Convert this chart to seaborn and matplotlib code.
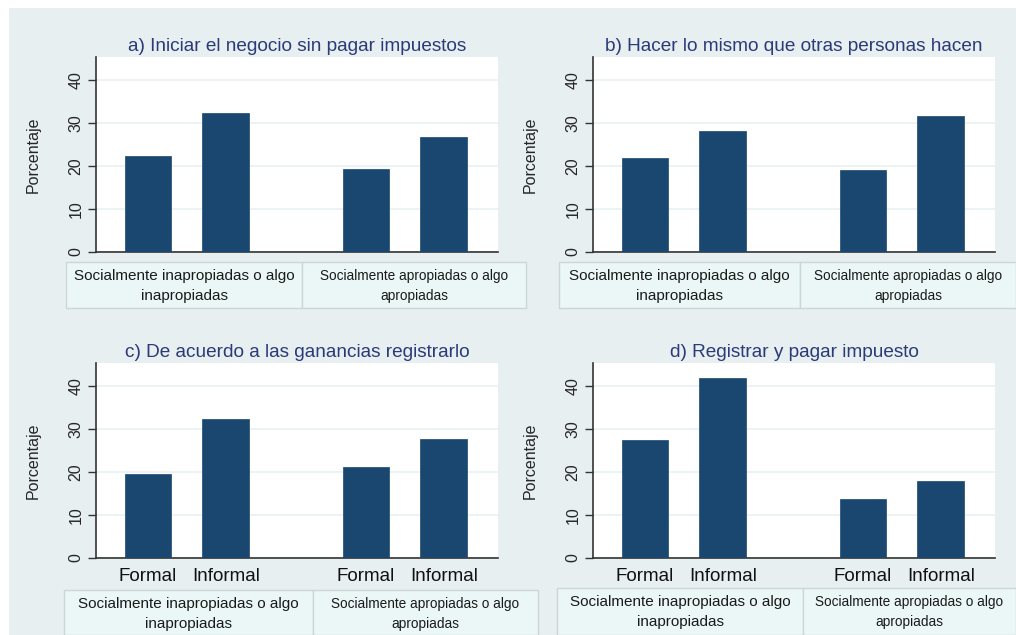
import pandas as pd
import seaborn as sns
import matplotlib.pyplot as plt
from matplotlib.patches import Rectangle

# Data
groups = ["Socialmente inapropiadas o algo\ninapropiadas",
          "Socialmente apropiadas o algo\napropiadas"]
sectors = ["Formal", "Informal"]
titles = ["a) Iniciar el negocio sin pagar impuestos",
          "b) Hacer lo mismo que otras personas hacen",
          "c) De acuerdo a las ganancias registrarlo",
          "d) Registrar y pagar impuesto"]
# order: [inapropiadas-Formal, inapropiadas-Informal, apropiadas-Formal, apropiadas-Informal]
vals_a = [22.3, 32.3, 19.3, 26.8]
vals_b = [21.8, 28.2, 19.0, 31.7]
vals_c = [19.5, 32.3, 21.2, 27.6]
vals_d = [27.3, 41.8, 13.7, 17.9]
yticks = [0, 10, 20, 30, 40]

bar_color = "#1a476f"
bg_color = "#e7eff1"
cell_color = "#eaf7f6"
title_color = "#2b3a78"

sns.set_theme(style="white")
plt.rcParams["font.family"] = ["Liberation Sans", "DejaVu Sans"]

W, H = 1016, 635
fig = plt.figure(figsize=(W / 100, H / 100), dpi=100)
fig.patch.set_facecolor(bg_color)

# white margin strips at top and left
fig.add_artist(Rectangle((0, 1 - 8 / H), 1, 8 / H, transform=fig.transFigure,
                         facecolor="white", edgecolor="none", zorder=0))
fig.add_artist(Rectangle((0, 0), 9 / W, 1, transform=fig.transFigure,
                         facecolor="white", edgecolor="none", zorder=0))


def px_box(x0, y0, x1, y1):
    return [x0 / W, 1 - y1 / H, (x1 - x0) / W, (y1 - y0) / H]


panels = [
    (titles[0], vals_a, (96, 57, 498, 252), False),
    (titles[1], vals_b, (593, 57, 995, 252), False),
    (titles[2], vals_c, (96, 363, 498, 558), True),
    (titles[3], vals_d, (593, 363, 995, 558), True),
]

bar_width = 0.714
for title, vals, box, show_sector in panels:
    ax = fig.add_axes(px_box(*box))
    df = pd.DataFrame({
        "grupo": [0, 0, 1, 1],
        "sector": sectors * 2,
        "pct": vals,
    })
    sns.barplot(data=df, x="grupo", y="pct", hue="sector", hue_order=sectors,
                palette=[bar_color, bar_color], width=bar_width, gap=0.4,
                legend=False, ax=ax, saturation=1, edgecolor=bar_color, linewidth=0.5,
                zorder=3)
    ax.set_facecolor("white")
    ax.set_ylim(0, 45.3)
    ax.set_xlim(-0.417, 1.427)
    ax.set_yticks(yticks)
    ax.set_yticklabels([str(t) for t in yticks], rotation=90, va="center",
                       fontsize=11.5)
    ax.yaxis.grid(True, color="#e9f1f2", linewidth=1.2, zorder=0)
    ax.tick_params(axis="y", length=6, width=1, color="#333333", pad=3,
                   left=True)
    ax.set_ylabel("Porcentaje", fontsize=11.5, labelpad=20)
    ax.set_xlabel("")
    for side in ["top", "right"]:
        ax.spines[side].set_visible(False)
    ax.spines["left"].set_color("#333333")
    ax.spines["bottom"].set_color("#333333")
    ax.spines["left"].set_linewidth(1.2)
    ax.spines["bottom"].set_linewidth(1.2)
    ax.set_title(title, fontsize=13.7, color=title_color, pad=4)
    if show_sector:
        off = bar_width / 4
        ax.set_xticks([-off, off, 1 - off, 1 + off])
        ax.set_xticklabels(sectors * 2, fontsize=13.5, color="#111111")
        ax.tick_params(axis="x", length=0, pad=7)
    else:
        ax.set_xticks([])

# tables under each panel: (x0, y0, divider, x1, y1)
tables = [
    (66, 262, 302, 526, 308),
    (559, 262, 800, 1016, 308),
    (64, 590, 313, 538, 635),
    (557, 588, 803, 1016, 635),
]
table_font = ["Liberation Sans Narrow", "Liberation Sans", "DejaVu Sans"]
for x0, y0, xd, x1, y1 in tables:
    for cx0, cx1, label, fs in [(x0, xd, groups[0], 11), (xd, x1, groups[1], 9.8)]:
        fig.add_artist(Rectangle(((cx0) / W, 1 - y1 / H), (cx1 - cx0) / W,
                                 (y1 - y0) / H, transform=fig.transFigure,
                                 facecolor=cell_color, edgecolor="#cdd5d7",
                                 linewidth=1, zorder=1))
        fig.text((cx0 + cx1) / 2 / W, 1 - (y0 + 24) / H, label,
                 ha="center", va="center", fontsize=fs, color="#1a1a1a",
                 family=table_font, linespacing=1.55)

fig.savefig("out.png", dpi=100, facecolor=fig.get_facecolor())
